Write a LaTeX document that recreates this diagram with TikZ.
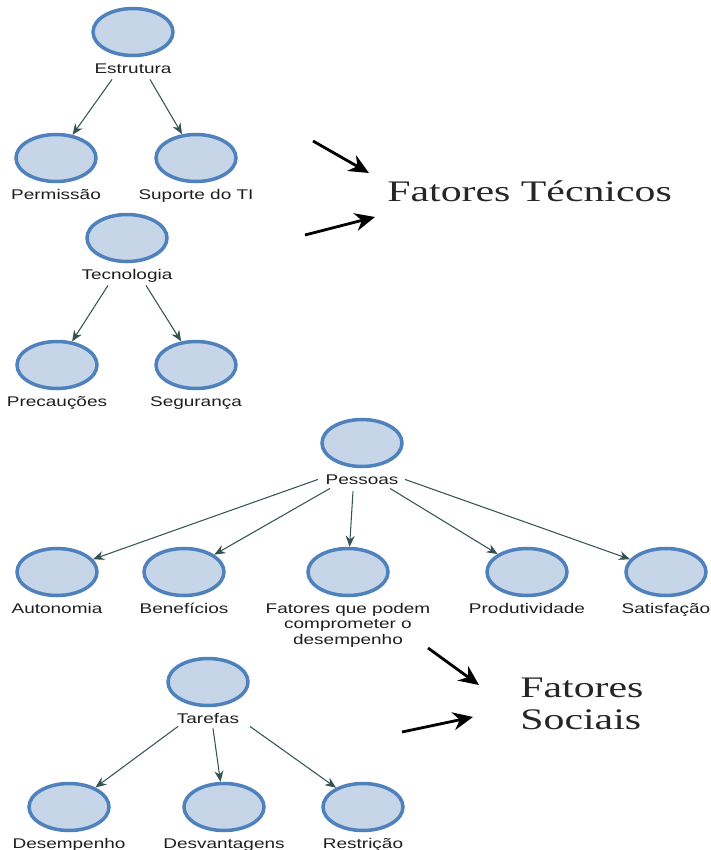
\documentclass[tikz,border=0pt]{standalone}
\usepackage{fontspec}
\newfontfamily\lblfont[FakeStretch=1.35]{Liberation Sans}
\newfontfamily\ttlfont[FakeStretch=1.4]{Liberation Serif}
\usetikzlibrary{arrows.meta,positioning,shapes.geometric}
\definecolor{ring}{RGB}{79,129,189}
\definecolor{bubfill}{RGB}{198,214,232}
\definecolor{link}{RGB}{52,84,84}
\definecolor{ink}{RGB}{30,30,30}
\tikzset{
  bubble/.style={ellipse,draw=ring,fill=bubfill,line width=2pt,
    minimum width=1.6cm,minimum height=0.94cm,inner sep=0pt},
  lblm/.style={font=\lblfont\fontsize{8}{9}\selectfont,text=ink,inner sep=1pt,
    align=center},
  lbl/.style={lblm,text height=6pt},
  arr/.style={-{Stealth[length=2.2mm,width=1.8mm]},draw=link,line width=0.6pt},
  bigarr/.style={-{Stealth[length=4mm,width=3.6mm]},line width=1.6pt,black},
  ttl/.style={font=\ttlfont\fontsize{17}{18}\selectfont,text=black!85,
    align=left,inner sep=0pt},
}

\begin{document}
\begin{tikzpicture}[x=0.02cm,y=-0.02cm,node distance=2pt]
  \useasboundingbox (0,0) rectangle (711,850);

  % Fatores tecnicos
  \node[bubble] (estr) at (133,32) {};
  \node[lbl,below=of estr] (estrL) {Estrutura};
  \node[bubble] (perm) at (56,158) {};
  \node[lbl,below=of perm] (permL) {Permissão};
  \node[bubble] (sup) at (196,158) {};
  \node[lbl,below=of sup] (supL) {Suporte do TI};
  \node[bubble] (tec) at (127,238) {};
  \node[lbl,below=of tec] (tecL) {Tecnologia};
  \node[bubble] (prec) at (57,365) {};
  \node[lbl,below=of prec] (precL) {Precauções};
  \node[bubble] (seg) at (196,365) {};
  \node[lbl,below=of seg] (segL) {Segurança};

  \draw[arr] ([shift={(-21,6)}]estrL.base) -- (perm);
  \draw[arr] ([shift={(17,6)}]estrL.base) -- (sup);
  \draw[arr] ([shift={(-19,6)}]tecL.base) -- (prec);
  \draw[arr] ([shift={(19,6)}]tecL.base) -- (seg);

  % Fatores sociais
  \node[bubble] (pess) at (362,443) {};
  \node[lbl,below=of pess] (pessL) {Pessoas};
  \node[bubble] (auto) at (57,572) {};
  \node[lbl,below=of auto] (autoL) {Autonomia};
  \node[bubble] (bene) at (184,572) {};
  \node[lbl,below=of bene] (beneL) {Benefícios};
  \node[bubble] (comp) at (348,572) {};
  \node[lblm,below=of comp] (compL) {Fatores que podem\\comprometer o\\desempenho};
  \node[bubble] (prod) at (527,572) {};
  \node[lbl,below=of prod] (prodL) {Produtividade};
  \node[bubble] (sat) at (666,572) {};
  \node[lbl,below=of sat] (satL) {Satisfação};

  \draw[arr] ([shift={(-44,-5)}]pessL.base) -- (auto);
  \draw[arr] ([shift={(-32,4)}]pessL.base) -- (bene);
  \draw[arr] ([shift={(-9,7)}]pessL.base) -- (comp);
  \draw[arr] ([shift={(28,4)}]pessL.base) -- (prod);
  \draw[arr] ([shift={(43,-5)}]pessL.base) -- (sat);

  \node[bubble] (tar) at (208,682) {};
  \node[lbl,below=of tar] (tarL) {Tarefas};
  \node[bubble] (dese) at (69,807) {};
  \node[lbl,below=of dese] (deseL) {Desempenho};
  \node[bubble] (desv) at (224,807) {};
  \node[lbl,below=of desv] (desvL) {Desvantagens};
  \node[bubble] (rest) at (363,807) {};
  \node[lbl,below=of rest] (restL) {Restrição};

  \draw[arr] ([shift={(-30,3)}]tarL.base) -- (dese);
  \draw[arr] ([shift={(5,5)}]tarL.base) -- (desv);
  \draw[arr] ([shift={(42,3)}]tarL.base) -- (rest);

  % grupos
  \node[ttl,anchor=base west] (tecT) at (387,201) {Fatores Técnicos};
  \coordinate (tecA1) at (313,141);
  \coordinate (tecB1) at (369,173);
  \coordinate (tecA2) at (305,235);
  \coordinate (tecB2) at (375,217);
  \draw[bigarr] (tecA1) -- (tecB1);
  \draw[bigarr] (tecA2) -- (tecB2);

  \node[ttl,anchor=base west] (socT) at (520,729) {Fatores\\Sociais};
  \coordinate (socA1) at (428,648);
  \coordinate (socB1) at (479,685);
  \coordinate (socA2) at (402,732);
  \coordinate (socB2) at (473,717);
  \draw[bigarr] (socA1) -- (socB1);
  \draw[bigarr] (socA2) -- (socB2);
\end{tikzpicture}
\end{document}
